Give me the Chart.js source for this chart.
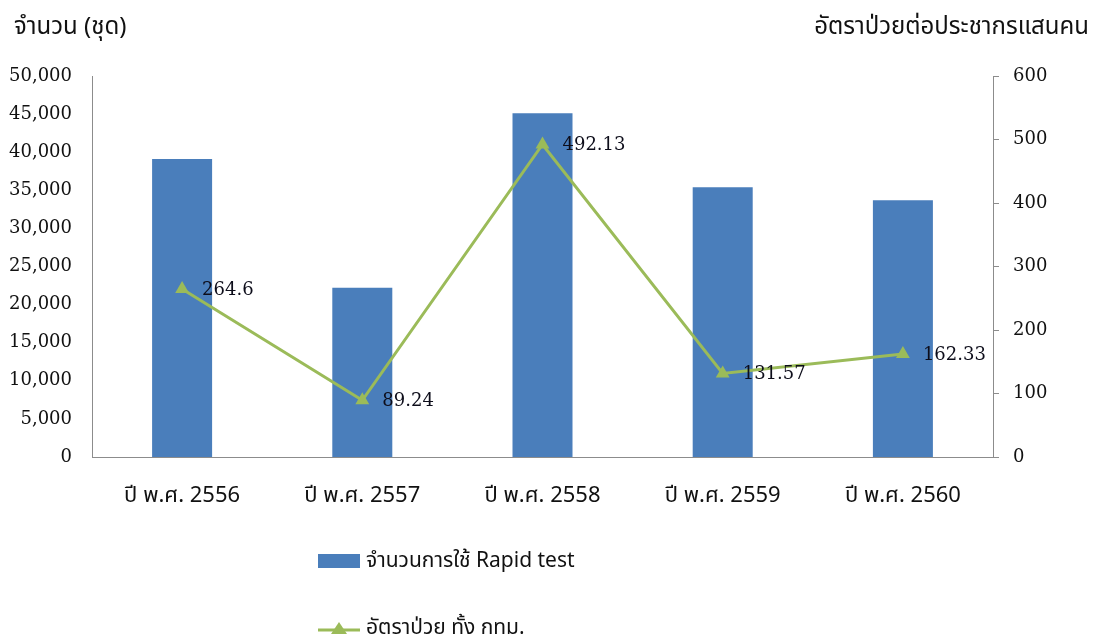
<!DOCTYPE html>
<html>
<head>
<meta charset="utf-8">
<script src="https://cdn.jsdelivr.net/npm/chart.js@4/dist/chart.umd.min.js"></script>
<style>
  html, body { margin: 0; padding: 0; background: #fff; }
  #wrap { width: 1094px; height: 640px; position: relative; }
</style>
</head>
<body>
<div id="wrap"><canvas id="chart" width="1094" height="640"></canvas></div>
<script>
// chart data
const years = ['ปี พ.ศ. 2556', 'ปี พ.ศ. 2557', 'ปี พ.ศ. 2558', 'ปี พ.ศ. 2559', 'ปี พ.ศ. 2560'];
const rapidTests = [39100, 22200, 45100, 35400, 33700];
const sickRates = [264.6, 89.24, 492.13, 131.57, 162.33];
const rateLabels = ['264.6', '89.24', '492.13', '131.57', '162.33'];

const leftTitle = 'จำนวน (ชุด)';
const rightTitle = 'อัตราป่วยต่อประชากรแสนคน';

const thaiFont = "'Noto Sans', 'Noto Sans Thai', 'Noto Sans CJK SC', sans-serif";
const numFont = "'DejaVu Serif', serif";
const blue = '#4a7ebb';
const green = '#9bbb59';
const axisGray = '#8c8c8c';

// titles, value labels and a stacked legend
const extrasPlugin = {
  id: 'extras',
  afterDraw(chart) {
    const ctx = chart.ctx;
    ctx.save();
    ctx.fillStyle = '#111';
    ctx.textBaseline = 'middle';

    // axis titles
    ctx.font = '24px ' + thaiFont;
    ctx.textAlign = 'left';
    ctx.fillText(leftTitle, 14, 27);
    ctx.textAlign = 'right';
    ctx.fillText(rightTitle, 1089, 27);

    // value labels next to the line points
    const meta = chart.getDatasetMeta(1);
    ctx.font = '18px ' + numFont;
    ctx.textAlign = 'left';
    ctx.fillStyle = '#0d0d1a';
    meta.data.forEach((pt, i) => {
      ctx.fillText(rateLabels[i], pt.x + 20, pt.y + 1);
    });

    // legend
    const ds = chart.data.datasets;
    ctx.font = '21px ' + thaiFont;
    ctx.fillStyle = ds[0].backgroundColor;
    ctx.fillRect(318, 554, 42, 14);
    ctx.fillStyle = '#111';
    ctx.fillText(ds[0].label, 366, 561);

    ctx.strokeStyle = ds[1].borderColor;
    ctx.lineWidth = 3;
    ctx.beginPath();
    ctx.moveTo(318, 630);
    ctx.lineTo(360, 630);
    ctx.stroke();
    ctx.fillStyle = ds[1].borderColor;
    ctx.beginPath();
    ctx.moveTo(339, 622);
    ctx.lineTo(347, 634);
    ctx.lineTo(331, 634);
    ctx.closePath();
    ctx.fill();
    ctx.fillStyle = '#111';
    ctx.fillText(ds[1].label, 366, 628);

    ctx.restore();
  }
};

new Chart(document.getElementById('chart'), {
  type: 'bar',
  data: {
    labels: years,
    datasets: [
      {
        type: 'bar',
        label: 'จำนวนการใช้ Rapid test',
        data: rapidTests,
        backgroundColor: blue,
        borderWidth: 0,
        categoryPercentage: 1,
        barPercentage: 0.333,
        yAxisID: 'y',
        order: 2
      },
      {
        type: 'line',
        label: 'อัตราป่วย ทั้ง กทม.',
        data: sickRates,
        borderColor: green,
        backgroundColor: green,
        borderWidth: 3,
        pointStyle: 'triangle',
        pointRadius: 8,
        pointBorderWidth: 0,
        tension: 0,
        yAxisID: 'y1',
        order: 1
      }
    ]
  },
  options: {
    responsive: false,
    animation: false,
    layout: { padding: { top: 76, bottom: 123, left: 0, right: 0 } },
    plugins: {
      legend: { display: false },
      tooltip: { enabled: false }
    },
    scales: {
      x: {
        offset: true,
        grid: { display: false, drawTicks: false },
        border: { display: true, color: axisGray, width: 1 },
        ticks: {
          padding: 26,
          color: '#111',
          font: { family: thaiFont, size: 22 }
        },
        afterFit(scale) { scale.height = 60; }
      },
      y: {
        position: 'left',
        min: 0,
        max: 50000,
        grid: { display: false, drawTicks: false },
        border: { display: true, color: axisGray, width: 1 },
        ticks: {
          stepSize: 5000,
          padding: 20,
          color: '#111',
          font: { family: numFont, size: 18 },
          callback: v => v.toLocaleString('en-US')
        },
        afterFit(scale) { scale.width = 92; }
      },
      y1: {
        position: 'right',
        min: 0,
        max: 600,
        grid: { drawOnChartArea: false, drawTicks: true, tickLength: 6, color: axisGray },
        border: { display: true, color: axisGray, width: 1 },
        ticks: {
          stepSize: 100,
          padding: 14,
          color: '#111',
          font: { family: numFont, size: 18 }
        },
        afterFit(scale) { scale.width = 101; }
      }
    }
  },
  plugins: [extrasPlugin]
});
</script>
</body>
</html>
